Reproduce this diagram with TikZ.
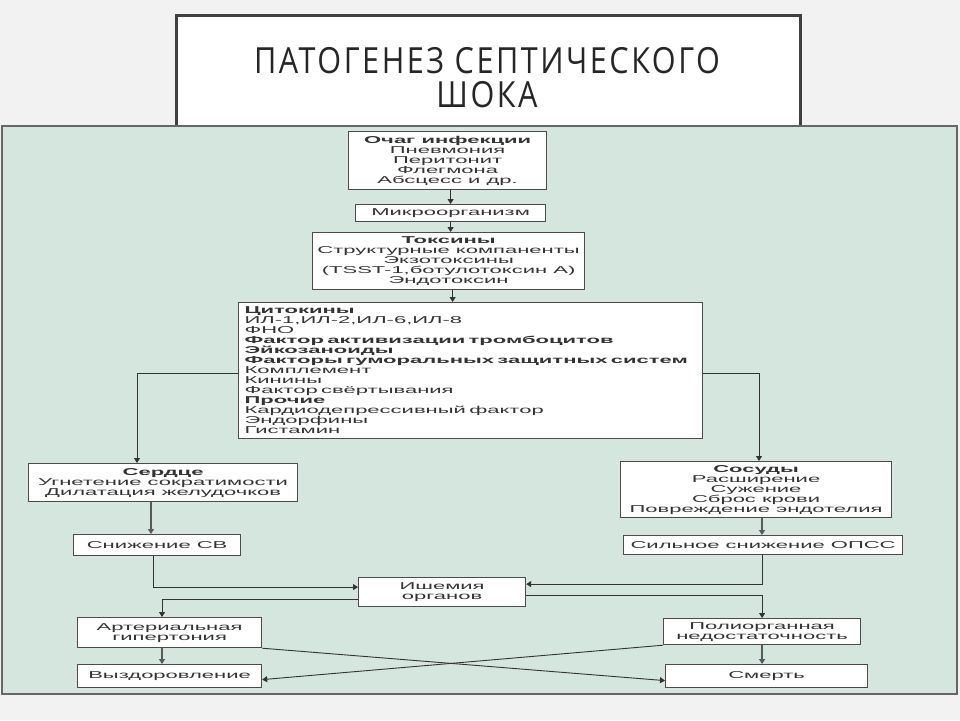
\documentclass[tikz,border=0pt]{standalone}
\usepackage{fontspec}
\setmainfont{Liberation Sans}
\newfontfamily\diag{Liberation Sans}[FakeStretch=2.2]
\newfontfamily\titlefont{Open Sans}[FakeStretch=0.85,LetterSpace=7]
\usetikzlibrary{arrows.meta}
\definecolor{bgc}{HTML}{F2F2F2}
\definecolor{panelc}{HTML}{D4E6DE}
\definecolor{linec}{HTML}{333333}
\definecolor{framec}{HTML}{404040}
\begin{document}
\begin{tikzpicture}[x=1pt,y=-1pt,
  box/.style={draw=black!70, line width=1.2pt, fill=white, inner sep=0pt, anchor=north west,
    align=center, font=\diag\fontsize{10}{10}\selectfont, text=black!80},
  arr/.style={draw=linec, line width=0.9pt, -{Triangle[length=5pt,width=6pt]}},
  thickarr/.style={arr, line width=1.4pt, draw=black!65},
  ttl/.style={font=\titlefont\fontsize{36}{35}\selectfont, text=black!85, anchor=base, inner sep=0pt}]
\useasboundingbox (0,0) rectangle (960,720);
\fill[bgc] (0,0) rectangle (960,720);
% title frame
\draw[line width=3pt, draw=framec, fill=white] (176,15) rectangle (800,140);
\node[ttl] (t1) at (487,73) {ПАТОГЕНЕЗ СЕПТИЧЕСКОГО};
\node[ttl] (t2) at (487,107) {ШОКА};
% panel
\fill[panelc] (2,126) rectangle (957,694);
\draw[draw=black!60, line width=1.2pt] (2,126) rectangle (957,694);
% boxes
\node[box, minimum width=198pt, minimum height=58pt] (src) at (348,131)
  {\textbf{Очаг инфекции}\\Пневмония\\Перитонит\\Флегмона\\Абсцесс и др.};
\node[box, minimum width=190pt, minimum height=17pt] (micro) at (355,204) {Микроорганизм};
\node[box, minimum width=272pt, minimum height=57pt] (tox) at (312,232)
  {\textbf{Токсины}\\Структурные компаненты\\Экзотоксины\\(TSST-1,ботулотоксин А)\\Эндотоксин};
\node[box, text width=452pt, inner xsep=6pt, minimum height=136pt, align=left] (cyt) at (238,302)
  {\textbf{Цитокины}\\ИЛ-1,ИЛ-2,ИЛ-6,ИЛ-8\\ФНО\\\textbf{Фактор активизации тромбоцитов}\\\textbf{Эйкозаноиды}\\\mbox{\textbf{Факторы гуморальных защитных систем}}\\Комплемент\\Кинины\\Фактор свёртывания\\\textbf{Прочие}\\Кардиодепрессивный фактор\\Эндорфины\\Гистамин};
\node[box, minimum width=269pt, minimum height=38pt] (heart) at (28,463)
  {\textbf{Сердце}\\Угнетение сократимости\\Дилатация желудочков};
\node[box, minimum width=167pt, minimum height=21pt] (sv) at (73,534) {Снижение СВ};
\node[box, minimum width=271pt, minimum height=56pt] (vess) at (620,461)
  {\textbf{Сосуды}\\Расширение\\Сужение\\Сброс крови\\Повреждение эндотелия};
\node[box, minimum width=279pt, minimum height=19pt] (opss) at (623,535) {Сильное снижение ОПСС};
\node[box, minimum width=167pt, minimum height=29pt] (isch) at (358,577) {Ишемия\\органов};
\node[box, minimum width=184pt, minimum height=30pt] (art) at (77,617) {Артериальная\\гипертония};
\node[box, minimum width=197pt, minimum height=26pt] (poly) at (663,618) {Полиорганная\\недостаточность};
\node[box, minimum width=184pt, minimum height=23pt] (rec) at (77,664) {Выздоровление};
\node[box, minimum width=202pt, minimum height=23pt] (death) at (665,664) {Смерть};
% connectors
\draw[arr] (micro.north |- src.south) -- (micro.north);
\draw[arr] (micro.south) -- (micro.south |- tox.north);
\draw[arr] ([xshift=4pt]tox.south) -- ([xshift=4pt]tox.south |- cyt.north);
\draw[arr] ([yshift=-3pt]cyt.west) -| ([xshift=109pt]heart.north west);
\draw[arr] ([yshift=-3pt]cyt.east) -| ([xshift=139pt]vess.north west);
\draw[thickarr] ([xshift=123pt]heart.south west) -- ([xshift=123pt]heart.south west |- sv.north);
\draw[thickarr] ([xshift=142pt]vess.south west) -- ([xshift=142pt]vess.south west |- opss.north);
\draw[arr] ([xshift=80pt]sv.south west) |- ([yshift=5pt]isch.west);
\draw[arr] ([xshift=139pt]opss.south west) |- ([yshift=8pt]isch.east);
\draw[arr] ([yshift=-7pt]isch.west) -| ([xshift=85pt]art.north west);
\draw[arr] ([yshift=-3pt]isch.east) -| (poly.north);
\draw[thickarr] ([xshift=85pt]art.south west) -- ([xshift=85pt]rec.north west);
\draw[thickarr] (poly.south) -- (poly.south |- death.north);
\draw[arr] (art.south east) -- ([yshift=-4.5pt]death.west);
\draw[arr] (poly.south west) -- ([yshift=-3.5pt]rec.east);
\end{tikzpicture}
\end{document}
